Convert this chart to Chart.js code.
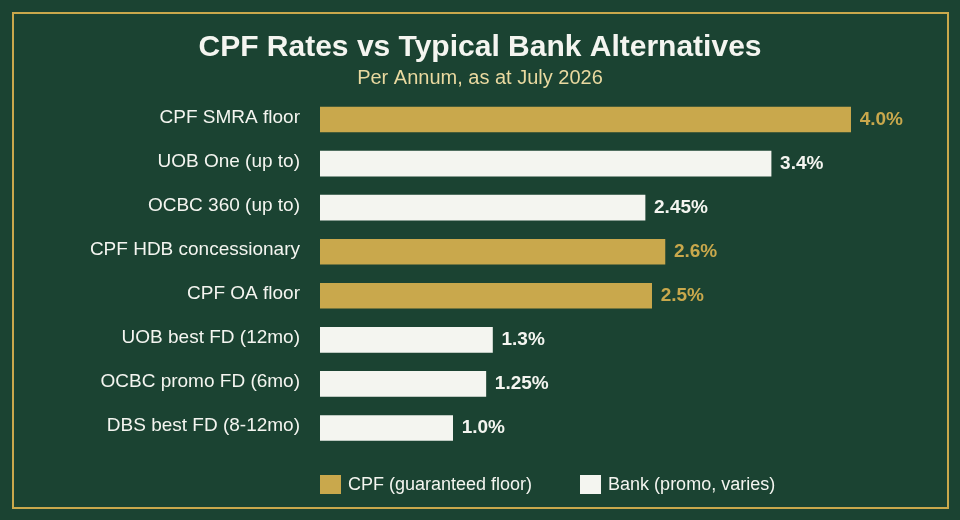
<!DOCTYPE html>
<html>
<head>
<meta charset="utf-8">
<script src="https://cdn.jsdelivr.net/npm/chart.js@4.4.1/dist/chart.umd.min.js"></script>
<style>
    html, body { margin: 0; padding: 0; background: #1b4332; }
    #wrap { position: relative; width: 960px; height: 520px; font-family: "Liberation Sans", Arial, sans-serif; }
    #frame { position: absolute; left: 12px; top: 12px; width: 933px; height: 493px; border: 2px solid #c9a84c; pointer-events: none; }
    #legend { position: absolute; left: 320px; top: 474px; display: flex; gap: 48px; color: #f4f5f0; font-size: 18px; }
    #legend .item { display: flex; align-items: center; }
    #legend .box { width: 21px; height: 19px; margin-right: 7px; }
</style>
</head>
<body>
<div id="wrap">
    <canvas id="chart" width="960" height="520"></canvas>
    <div id="frame"></div>
    <div id="legend"></div>
</div>
<script>
// Data
const categories = [
    "CPF SMRA floor",
    "UOB One (up to)",
    "OCBC 360 (up to)",
    "CPF HDB concessionary",
    "CPF OA floor",
    "UOB best FD (12mo)",
    "OCBC promo FD (6mo)",
    "DBS best FD (8-12mo)",
];
const cpfRates = [4.0, null, null, 2.6, 2.5, null, null, null];
const bankRates = [null, 3.4, 2.45, null, null, 1.3, 1.25, 1.0];

const GOLD = '#c9a84c';
const CREAM = '#f4f5f0';
const FONT = '"Liberation Sans", Arial, sans-serif';

// Value labels at bar ends
const valueLabels = {
    id: 'valueLabels',
    afterDatasetsDraw(chart) {
        const ctx = chart.ctx;
        ctx.save();
        ctx.font = 'bold 19px ' + FONT;
        ctx.textBaseline = 'middle';
        ctx.textAlign = 'left';
        chart.data.datasets.forEach((ds, i) => {
            chart.getDatasetMeta(i).data.forEach((bar, j) => {
                const v = ds.data[j];
                if (v == null) return;
                ctx.fillStyle = ds.backgroundColor;
                const txt = v.toLocaleString('en-US', { minimumFractionDigits: 1 }) + '%';
                ctx.fillText(txt, bar.x + 9, bar.y);
            });
        });
        ctx.restore();
    }
};

const chart = new Chart(document.getElementById('chart'), {
    type: 'bar',
    data: {
        labels: categories,
        datasets: [
            { label: 'CPF (guaranteed floor)', data: cpfRates, backgroundColor: GOLD },
            { label: 'Bank (promo, varies)', data: bankRates, backgroundColor: CREAM },
        ],
    },
    options: {
        indexAxis: 'y',
        responsive: false,
        animation: false,
        layout: { padding: { top: 30, right: 43, bottom: 70, left: 43 } },
        plugins: {
            legend: { display: false },
            tooltip: { enabled: false },
            title: {
                display: true,
                text: 'CPF Rates vs Typical Bank Alternatives',
                color: CREAM,
                font: { size: 30, weight: 'bold', family: FONT },
                padding: { top: 0, bottom: 0 },
            },
            subtitle: {
                display: true,
                text: 'Per Annum, as at July 2026',
                color: '#e9d9a0',
                font: { size: 20, family: FONT },
                padding: { top: 0, bottom: 7.5 },
            },
        },
        datasets: { bar: { barThickness: 25 } },
        scales: {
            x: { display: false, stacked: true, min: 0, max: 4.5 },
            y: {
                stacked: true,
                grid: { display: false, drawTicks: false },
                border: { display: false },
                ticks: {
                    color: CREAM,
                    padding: 20,
                    labelOffset: -2,
                    font: { size: 19, family: FONT },
                },
                afterFit(scale) { scale.width = 277; },
            },
        },
    },
    plugins: [valueLabels],
});

// HTML legend
document.getElementById('legend').innerHTML = chart.data.datasets.map(ds => `
    <div class="item"><span class="box" style="background:${ds.backgroundColor}"></span>${ds.label}</div>
`).join('');
</script>
</body>
</html>
